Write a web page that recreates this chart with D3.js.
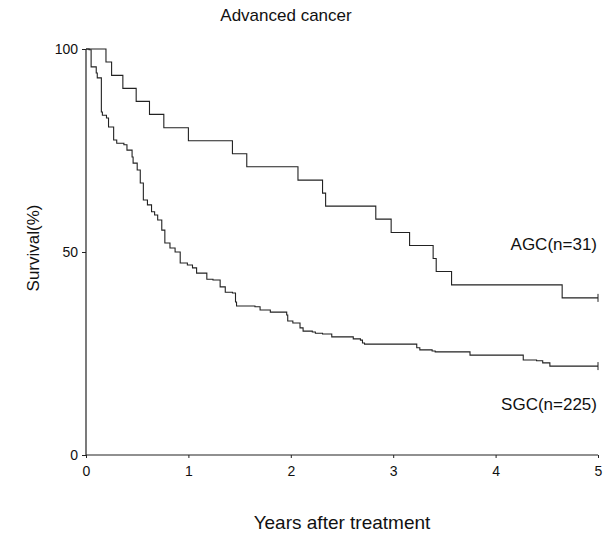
<!DOCTYPE html>
<html>
<head>
<meta charset="utf-8">
<script src="https://cdn.jsdelivr.net/npm/d3@7"></script>
<style>
  body { margin: 0; background: #fff; }
  text { font-family: Arial, "Liberation Sans", sans-serif; fill: #111; }
</style>
</head>
<body>
<script>
// Kaplan-Meier curves (time in years, survival in %)
const agcTimes = [0, 0.195, 0.25, 0.36, 0.49, 0.62, 0.76, 1.00, 1.43, 1.57, 2.07, 2.31, 2.34, 2.83, 2.98, 3.16, 3.39, 3.42, 3.57, 4.65, 5.0];
const agcSurv  = [100, 96.8, 93.5, 90.3, 87.1, 83.9, 80.6, 77.4, 74.2, 71.0, 67.7, 64.5, 61.3, 58.1, 54.8, 51.6, 48.4, 45.2, 41.9, 38.7, 38.7];

const sgcTimes = [0, 0.03, 0.05, 0.10, 0.11, 0.15, 0.16, 0.20, 0.22, 0.27, 0.30, 0.37, 0.40, 0.45, 0.46, 0.50,
  0.53, 0.56, 0.60, 0.64, 0.67, 0.70, 0.74, 0.77, 0.82, 0.87, 0.92, 0.99, 1.04, 1.08, 1.18, 1.24, 1.31, 1.36,
  1.43, 1.46, 1.47, 1.65, 1.70, 1.80, 1.96, 1.97, 2.02, 2.09, 2.12, 2.21, 2.24, 2.31, 2.40, 2.61, 2.68, 2.70,
  2.72, 3.23, 3.26, 3.38, 3.41, 3.75, 4.27, 4.40, 4.46, 4.53, 5.0];
const sgcSurv  = [100, 99.8, 95.6, 94.1, 92.9, 84.5, 83.7, 83.0, 80.8, 77.6, 76.8, 76.4, 75.1, 73.4, 71.9, 70.2,
  67.0, 62.8, 61.6, 59.9, 59.1, 57.9, 55.4, 52.2, 51.0, 50.0, 47.3, 46.8, 46.1, 44.8, 43.3, 43.1, 41.4, 40.1,
  39.9, 37.7, 36.7, 36.5, 35.7, 35.2, 34.5, 33.0, 32.5, 31.3, 30.5, 30.3, 30.0, 29.8, 29.1, 28.6, 28.3, 27.6,
  27.3, 26.4, 25.9, 25.6, 25.4, 24.6, 23.4, 23.2, 22.7, 21.9, 21.9];

const xTicks = [0, 1, 2, 3, 4, 5];
const yTicks = [0, 50, 100];
const groupLabels = ["AGC(n=31)", "SGC(n=225)"];

const W = 610, H = 536;
const margin = {top: 49, right: 12, bottom: 81, left: 86};
const width = W - margin.left - margin.right,
    height = H - margin.top - margin.bottom;

const svg = d3.select("body")
    .append("svg")
    .attr("width", W)
    .attr("height", H);

const g = svg.append("g")
    .attr("transform", `translate(${margin.left}, ${margin.top})`);

const x = d3.scaleLinear().domain([0, 5]).range([0, width]);
const y = d3.scaleLinear().domain([0, 100]).range([height, 0]);

// axes
const xAxis = g.append("g")
    .attr("transform", `translate(0,${height})`)
    .call(d3.axisBottom(x).tickValues(xTicks).tickFormat(d3.format("d")).tickSize(3).tickPadding(8));
const yAxis = g.append("g")
    .call(d3.axisLeft(y).tickValues(yTicks).tickFormat(d3.format("d")).tickSize(4).tickPadding(4));

[xAxis, yAxis].forEach(a => {
    a.select(".domain").attr("stroke", "#222").attr("stroke-width", 1.2);
    a.selectAll(".tick line").attr("stroke", "#222");
    a.selectAll(".tick text")
        .attr("font-size", 14)
        .attr("font-family", "Arial, 'Liberation Sans', sans-serif")
        .attr("fill", "#111");
});
// plain axis lines, no end stubs
xAxis.select(".domain").attr("d", `M0,0H${width}`);
yAxis.select(".domain").attr("d", `M0,0V${height}`);

const line = d3.line()
    .x(d => x(d[0]))
    .y(d => y(d[1]))
    .curve(d3.curveStepAfter);

const series = [
    d3.zip(agcTimes, agcSurv),
    d3.zip(sgcTimes, sgcSurv)
];

series.forEach(s => {
    g.append("path")
        .datum(s)
        .attr("fill", "none")
        .attr("stroke", "#222")
        .attr("stroke-width", 1.1)
        .attr("d", line);
    // censor mark at end
    const last = s[s.length - 1];
    g.append("line")
        .attr("x1", x(last[0])).attr("x2", x(last[0]))
        .attr("y1", y(last[1]) - 4).attr("y2", y(last[1]) + 4)
        .attr("stroke", "#222");
});

// group labels
g.append("text")
    .attr("x", width - 1)
    .attr("y", y(50.5))
    .attr("text-anchor", "end")
    .attr("font-size", 17)
    .text(groupLabels[0]);
g.append("text")
    .attr("x", width - 1)
    .attr("y", y(11.2))
    .attr("text-anchor", "end")
    .attr("font-size", 17)
    .text(groupLabels[1]);

// titles
svg.append("text")
    .attr("x", 286)
    .attr("y", 21)
    .attr("text-anchor", "middle")
    .attr("font-size", 17)
    .text("Advanced cancer");

svg.append("text")
    .attr("x", margin.left + width / 2)
    .attr("y", 529)
    .attr("text-anchor", "middle")
    .attr("font-size", 19)
    .text("Years after treatment");

svg.append("text")
    .attr("transform", `translate(39, ${margin.top + height / 2 - 4}) rotate(-90)`)
    .attr("text-anchor", "middle")
    .attr("font-size", 17)
    .text("Survival(%)");
</script>
</body>
</html>
